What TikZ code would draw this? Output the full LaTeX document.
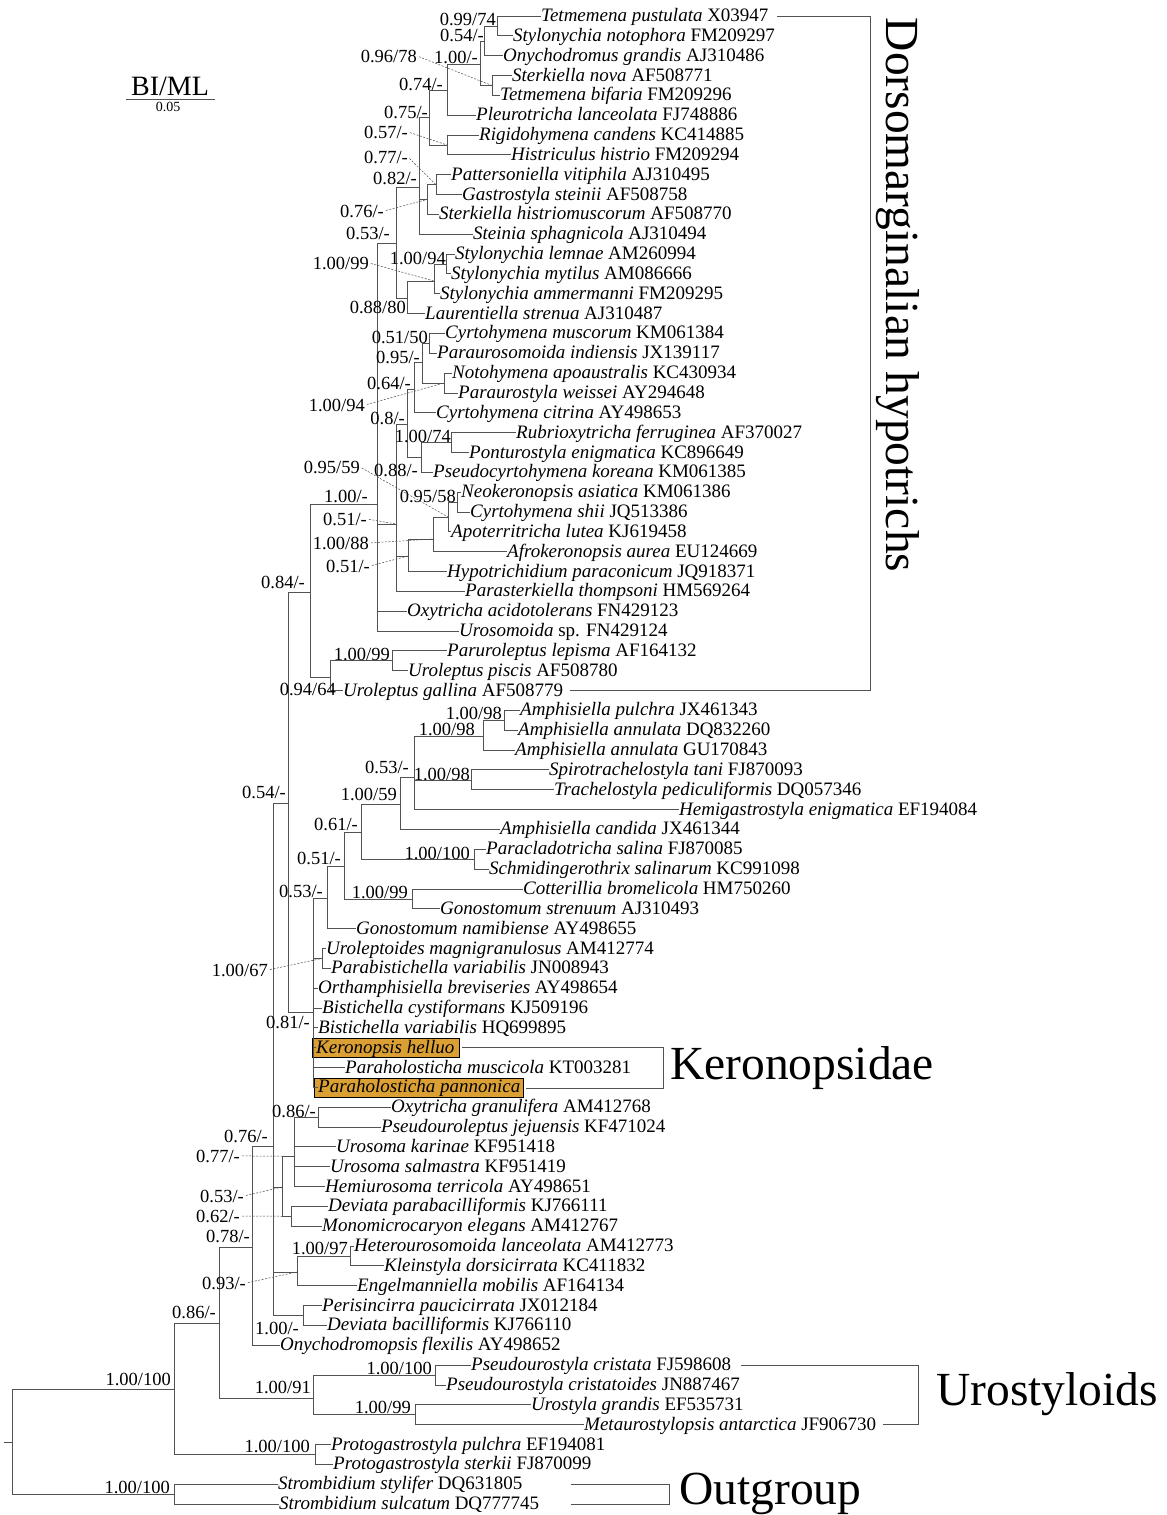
\documentclass[tikz,border=0pt]{standalone}
\usepackage{fontspec}
\setmainfont{Liberation Serif}
\definecolor{hl}{RGB}{218,160,52}
\newcommand\Lf[5]{\node[lfs] (#1) at (#3,#4+5.5) {#5};\draw[br] (#2,#4) -- (#3-0.8,#4);}
\newcommand\Cl[6]{\coordinate (#1) at (#2,#6);\draw[br] (#2,#3) -- (#2,#4);\draw[br] (#5,#6) -- (#1);}
\newcommand\Sv[4]{\node[sv] (#1) at (#2,#3) {#4};}
\begin{document}
\begin{tikzpicture}[x=1pt,y=-1pt,
  br/.style={draw=black!68, line width=0.85pt, line cap=rect},
  lfs/.style={anchor=base west, inner sep=0pt, font=\fontsize{19}{19}\selectfont},
  sv/.style={anchor=base east, inner sep=0pt, font=\fontsize{18.5}{18.5}\selectfont},
  ld/.style={draw=black!70, line width=0.5pt, dash pattern=on 2pt off 1.5pt, shorten <=2pt},
  big/.style={inner sep=0pt, font=\fontsize{47.5}{47.5}\selectfont},
  hlbox/.style={fill=hl, draw=black, line width=0.6pt}]
\useasboundingbox (0,0) rectangle (1167,1515);
% highlighted taxa
\path[hlbox] (312,1038) rectangle (459,1057.5);
\path[hlbox] (314,1078) rectangle (523,1097.5);
% internal nodes: name, x, ytop, ybot, parent x, stem y
\Cl{A}{497}{16}{35.8}{484}{26}
\Cl{B}{484}{26}{55.7}{480}{41}
\Cl{C}{492}{75.5}{95.4}{480}{85.5}
\Cl{D}{480}{41}{85.5}{447}{64}
\Cl{E}{447}{64}{115.2}{429}{90}
\Cl{F}{447}{135}{154.9}{429}{145}
\Cl{G}{429}{90}{145}{419}{117}
\Cl{I}{436}{174.7}{194.6}{427}{184.7}
\Cl{J}{427}{184.7}{214.4}{419}{199.5}
\Cl{H}{419}{117}{234.2}{396}{187}
\Cl{N1}{446}{254.1}{273.9}{434}{264}
\Cl{N2}{434}{264}{293.8}{407}{281}
\Cl{N3}{407}{281}{313.6}{396}{298}
\Cl{N4}{396}{187}{298}{377}{243}
\Cl{P1}{429}{333.4}{353.3}{422}{343.4}
\Cl{P3}{444}{373.1}{393}{422}{383}
\Cl{P2}{422}{343.4}{383}{414}{362}
\Cl{P4}{414}{362}{412.8}{407}{389}
\Cl{P5}{451}{432.6}{452.5}{421}{442.6}
\Cl{P6}{421}{442.6}{472.3}{407}{457.5}
\Cl{P7}{407}{389}{457.5}{396}{424}
\Cl{Q1}{457}{492.2}{512}{448}{502}
\Cl{Q2}{448}{502}{531.8}{433}{517}
\Cl{Q3}{433}{517}{551.7}{408}{539}
\Cl{Q4}{408}{539}{571.5}{396}{556}
\Cl{Q5}{396}{424}{591.4}{377}{524}
\Cl{N5}{377}{243}{631}{310}{504}
\Cl{S1}{392}{650.9}{670.7}{330}{660.8}
\Cl{S2}{330}{660.8}{690.6}{310}{677}
\Cl{R}{310}{504}{677}{288}{592}
\Cl{AE}{504}{710.4}{730.2}{483}{720.3}
\Cl{AC}{483}{720.3}{750.1}{414}{736}
\Cl{AD}{471}{769.9}{789.8}{414}{780}
\Cl{AB}{414}{736}{809.6}{400}{777}
\Cl{Z}{400}{777}{829.4}{361}{804}
\Cl{AA}{474}{849.3}{869.1}{361}{859.2}
\Cl{X}{361}{804}{859.2}{344}{832}
\Cl{Y}{412}{889}{908.8}{344}{899}
\Cl{W}{344}{832}{899}{327}{866}
\Cl{V}{327}{866}{928.6}{313}{898}
\Cl{UP}{322}{948.5}{968.3}{313}{958.4}
\Cl{U}{313}{898}{1087.4}{288}{1012}
\Cl{T}{288}{592}{1012}{273}{803}
\Cl{OG}{318}{1107.2}{1127}{294}{1117}
\Cl{CC}{294}{1117}{1186.6}{282}{1156}
\Cl{DD}{291}{1206.4}{1226.2}{282}{1216.3}
\Cl{EE}{282}{1156}{1216.3}{273}{1187}
\Cl{HK}{350}{1246.1}{1265.9}{297}{1256}
\Cl{GG}{297}{1256}{1285.8}{273}{1272}
\Cl{PD}{303}{1305.6}{1325.4}{273}{1315.5}
\Cl{BB}{273}{803}{1315.5}{252}{1146}
\Cl{II}{252}{1146}{1345.3}{219}{1247}
\Cl{LL}{435}{1365.1}{1385}{313}{1375}
\Cl{MM}{415}{1404.8}{1424.6}{313}{1414.7}
\Cl{KK}{313}{1375}{1414.7}{219}{1398}
\Cl{JJ}{219}{1247}{1398}{174}{1323}
\Cl{PG}{315}{1444.5}{1464.3}{174}{1454.4}
\Cl{NN}{174}{1323}{1454.4}{12}{1389}
\Cl{SS}{174}{1484.2}{1504}{12}{1494}
\Cl{root}{12}{1389}{1494}{4}{1442}
% leaves
\Lf{t1}{497}{541}{16}{\textit{Tetmemena pustulata} X03947}
\Lf{t2}{497}{513}{35.8}{\textit{Stylonychia notophora} FM209297}
\Lf{t3}{484}{503}{55.7}{\textit{Onychodromus grandis} AJ310486}
\Lf{t4}{492}{512}{75.5}{\textit{Sterkiella nova} AF508771}
\Lf{t5}{492}{500}{95.4}{\textit{Tetmemena bifaria} FM209296}
\Lf{t6}{447}{476}{115.2}{\textit{Pleurotricha lanceolata} FJ748886}
\Lf{t7}{447}{479}{135}{\textit{Rigidohymena candens} KC414885}
\Lf{t8}{447}{511}{154.9}{\textit{Histriculus histrio} FM209294}
\Lf{t9}{436}{451}{174.7}{\textit{Pattersoniella vitiphila} AJ310495}
\Lf{t10}{436}{462}{194.6}{\textit{Gastrostyla steinii} AF508758}
\Lf{t11}{427}{439}{214.4}{\textit{Sterkiella histriomuscorum} AF508770}
\Lf{t12}{419}{473}{234.2}{\textit{Steinia sphagnicola} AJ310494}
\Lf{t13}{446}{455}{254.1}{\textit{Stylonychia lemnae} AM260994}
\Lf{t14}{446}{451}{273.9}{\textit{Stylonychia mytilus} AM086666}
\Lf{t15}{434}{440}{293.8}{\textit{Stylonychia ammermanni} FM209295}
\Lf{t16}{407}{425}{313.6}{\textit{Laurentiella strenua} AJ310487}
\Lf{t17}{429}{445}{333.4}{\textit{Cyrtohymena muscorum} KM061384}
\Lf{t18}{429}{437}{353.3}{\textit{Paraurosomoida indiensis} JX139117}
\Lf{t19}{444}{452}{373.1}{\textit{Notohymena apoaustralis} KC430934}
\Lf{t20}{444}{458}{393}{\textit{Paraurostyla weissei} AY294648}
\Lf{t21}{414}{436}{412.8}{\textit{Cyrtohymena citrina} AY498653}
\Lf{t22}{451}{516}{432.6}{\textit{Rubrioxytricha ferruginea} AF370027}
\Lf{t23}{451}{469}{452.5}{\textit{Ponturostyla enigmatica} KC896649}
\Lf{t24}{421}{433}{472.3}{\textit{Pseudocyrtohymena koreana} KM061385}
\Lf{t25}{457}{461}{492.2}{\textit{Neokeronopsis asiatica} KM061386}
\Lf{t26}{457}{470}{512}{\textit{Cyrtohymena shii} JQ513386}
\Lf{t27}{448}{451}{531.8}{\textit{Apoterritricha lutea} KJ619458}
\Lf{t28}{433}{507}{551.7}{\textit{Afrokeronopsis aurea} EU124669}
\Lf{t29}{408}{447}{571.5}{\textit{Hypotrichidium paraconicum} JQ918371}
\Lf{t30}{396}{465}{591.4}{\textit{Parasterkiella thompsoni} HM569264}
\Lf{t31}{377}{407}{611.2}{\textit{Oxytricha acidotolerans} FN429123}
\Lf{t32}{377}{459}{631}{\textit{Urosomoida} sp. FN429124}
\Lf{t33}{392}{447}{650.9}{\textit{Paruroleptus lepisma} AF164132}
\Lf{t34}{392}{408}{670.7}{\textit{Uroleptus piscis} AF508780}
\Lf{t35}{330}{343}{690.6}{\textit{Uroleptus gallina} AF508779}
\Lf{t36}{504}{520}{710.4}{\textit{Amphisiella pulchra} JX461343}
\Lf{t37}{504}{518}{730.2}{\textit{Amphisiella annulata} DQ832260}
\Lf{t38}{483}{515}{750.1}{\textit{Amphisiella annulata} GU170843}
\Lf{t39}{471}{549}{769.9}{\textit{Spirotrachelostyla tani} FJ870093}
\Lf{t40}{471}{554}{789.8}{\textit{Trachelostyla pediculiformis} DQ057346}
\Lf{t41}{414}{679}{809.6}{\textit{Hemigastrostyla enigmatica} EF194084}
\Lf{t42}{400}{500}{829.4}{\textit{Amphisiella candida} JX461344}
\Lf{t43}{474}{486}{849.3}{\textit{Paracladotricha salina} FJ870085}
\Lf{t44}{474}{489}{869.1}{\textit{Schmidingerothrix salinarum} KC991098}
\Lf{t45}{412}{523}{889}{\textit{Cotterillia bromelicola} HM750260}
\Lf{t46}{412}{440}{908.8}{\textit{Gonostomum strenuum} AJ310493}
\Lf{t47}{327}{356}{928.6}{\textit{Gonostomum namibiense} AY498655}
\Lf{t48}{322}{326}{948.5}{\textit{Uroleptoides magnigranulosus} AM412774}
\Lf{t49}{322}{331}{968.3}{\textit{Parabistichella variabilis} JN008943}
\Lf{t50}{313}{318}{988.2}{\textit{Orthamphisiella breviseries} AY498654}
\Lf{t51}{313}{322}{1008}{\textit{Bistichella cystiformans} KJ509196}
\Lf{t52}{313}{318}{1027.8}{\textit{Bistichella variabilis} HQ699895}
\Lf{t53}{313}{316}{1047.7}{\textit{Keronopsis helluo}}
\Lf{t54}{313}{345}{1067.5}{\textit{Paraholosticha muscicola} KT003281}
\Lf{t55}{313}{318}{1087.4}{\textit{Paraholosticha pannonica}}
\Lf{t56}{318}{391}{1107.2}{\textit{Oxytricha granulifera} AM412768}
\Lf{t57}{318}{381}{1127}{\textit{Pseudouroleptus jejuensis} KF471024}
\Lf{t58}{294}{336}{1146.9}{\textit{Urosoma karinae} KF951418}
\Lf{t59}{294}{330}{1166.7}{\textit{Urosoma salmastra} KF951419}
\Lf{t60}{294}{325}{1186.6}{\textit{Hemiurosoma terricola} AY498651}
\Lf{t61}{291}{328}{1206.4}{\textit{Deviata parabacilliformis} KJ766111}
\Lf{t62}{291}{322}{1226.2}{\textit{Monomicrocaryon elegans} AM412767}
\Lf{t63}{350}{354}{1246.1}{\textit{Heterourosomoida lanceolata} AM412773}
\Lf{t64}{350}{384}{1265.9}{\textit{Kleinstyla dorsicirrata} KC411832}
\Lf{t65}{297}{357}{1285.8}{\textit{Engelmanniella mobilis} AF164134}
\Lf{t66}{303}{322}{1305.6}{\textit{Perisincirra paucicirrata} JX012184}
\Lf{t67}{303}{327}{1325.4}{\textit{Deviata bacilliformis} KJ766110}
\Lf{t68}{252}{280}{1345.3}{\textit{Onychodromopsis flexilis} AY498652}
\Lf{t69}{435}{471}{1365.1}{\textit{Pseudourostyla cristata} FJ598608}
\Lf{t70}{435}{446}{1385}{\textit{Pseudourostyla cristatoides} JN887467}
\Lf{t71}{415}{531}{1404.8}{\textit{Urostyla grandis} EF535731}
\Lf{t72}{415}{584}{1424.6}{\textit{Metaurostylopsis antarctica} JF906730}
\Lf{t73}{315}{331}{1444.5}{\textit{Protogastrostyla pulchra} EF194081}
\Lf{t74}{315}{333}{1464.3}{\textit{Protogastrostyla sterkii} FJ870099}
\Lf{t75}{174}{278}{1484.2}{\textit{Strombidium stylifer} DQ631805}
\Lf{t76}{174}{279}{1504}{\textit{Strombidium sulcatum} DQ777745}
% support values
\Sv{s1}{496}{25}{0.99/74}
\Sv{s2}{484}{41.5}{0.54/-}
\Sv{s3}{417}{62}{0.96/78}
\Sv{s4}{478}{63}{1.00/-}
\Sv{s5}{443}{90}{0.74/-}
\Sv{s6}{428}{118}{0.75/-}
\Sv{s7}{408}{138}{0.57/-}
\Sv{s8}{408}{163}{0.77/-}
\Sv{s9}{417}{184}{0.82/-}
\Sv{s10}{384}{217}{0.76/-}
\Sv{s11}{390}{239}{0.53/-}
\Sv{s12}{446}{264}{1.00/94}
\Sv{s13}{369}{269}{1.00/99}
\Sv{s14}{406}{313}{0.88/80}
\Sv{s15}{428}{343}{0.51/50}
\Sv{s16}{420}{363}{0.95/-}
\Sv{s17}{411}{389}{0.64/-}
\Sv{s18}{365}{411}{1.00/94}
\Sv{s19}{405}{424}{0.8/-}
\Sv{s20}{451}{442}{1.00/74}
\Sv{s21}{418}{476}{0.88/-}
\Sv{s22}{360}{473}{0.95/59}
\Sv{s23}{368}{502}{1.00/-}
\Sv{s24}{456}{502}{0.95/58}
\Sv{s25}{367}{525}{0.51/-}
\Sv{s26}{369}{549}{1.00/88}
\Sv{s27}{370}{572}{0.51/-}
\Sv{s28}{305}{588}{0.84/-}
\Sv{s29}{390}{660}{1.00/99}
\Sv{s30}{336}{695}{0.94/64}
\Sv{s31}{286}{798}{0.54/-}
\Sv{s32}{502}{719}{1.00/98}
\Sv{s33}{475}{735}{1.00/98}
\Sv{s34}{409}{773}{0.53/-}
\Sv{s35}{470}{780}{1.00/98}
\Sv{s36}{397}{800}{1.00/59}
\Sv{s37}{358}{830}{0.61/-}
\Sv{s38}{470}{859}{1.00/100}
\Sv{s39}{341}{864}{0.51/-}
\Sv{s40}{408}{898}{1.00/99}
\Sv{s41}{323}{897}{0.53/-}
\Sv{s42}{268}{976}{1.00/67}
\Sv{s43}{310}{1028}{0.81/-}
\Sv{s44}{316}{1117}{0.86/-}
\Sv{s45}{268}{1142}{0.76/-}
\Sv{s46}{240}{1162}{0.77/-}
\Sv{s47}{244}{1202}{0.53/-}
\Sv{s48}{240}{1222}{0.62/-}
\Sv{s49}{250}{1242}{0.78/-}
\Sv{s50}{348}{1254}{1.00/97}
\Sv{s51}{246}{1289}{0.93/-}
\Sv{s52}{299}{1334}{1.00/-}
\Sv{s53}{216}{1318}{0.86/-}
\Sv{s54}{171}{1385}{1.00/100}
\Sv{s55}{311}{1393}{1.00/91}
\Sv{s56}{432}{1374}{1.00/100}
\Sv{s57}{411}{1413}{1.00/99}
\Sv{s58}{310}{1452}{1.00/100}
\Sv{s59}{170}{1493}{1.00/100}
% dashed leaders
\draw[ld] (s3.east) -- (C);
\draw[ld] (s7.east) -- (F);
\draw[ld] (s8.east) -- (I);
\draw[ld] (s10.east) -- (J);
\draw[ld] (s13.east) -- (N2);
\draw[ld] (s18.east) -- (P3);
\draw[ld] (s22.east) -- (Q2);
\draw[ld] (s25.east) -- (Q5);
\draw[ld] (s26.east) -- (Q3);
\draw[ld] (s27.east) -- (Q4);
\draw[ld] (s42.east) -- (UP);
\draw[ld] (s46.east) -- (EE |- CC);
\draw[ld] (s47.east) -- (EE);
\draw[ld] (s48.east) -- (DD);
\draw[ld] (s51.east) -- (GG);
% group brackets and labels
\draw[br] (777,16) -- (870,16) -- (870,690.6) -- (570,690.6);
\node[big, rotate=-90] (dorso) at (898,295) {Dorsomarginalian hypotrichs};
\draw[br] (462,1047.7) -- (663,1047.7) -- (663,1088) -- (526,1088);
\node[big, anchor=west] (kero) at (670,1068) {Keronopsidae};
\draw[br] (741,1365.1) -- (918,1365.1) -- (918,1424.6) -- (883,1424.6);
\node[big, anchor=west] (uro) at (936,1394) {Urostyloids};
\draw[br] (571,1484.2) -- (669,1484.2) -- (669,1504) -- (571,1504);
\node[big, anchor=west] (outg) at (679,1494) {Outgroup};
% scale bar
\node[inner sep=0pt, anchor=base, font=\fontsize{28}{28}\selectfont] (bi) at (170,95) {BI/ML};
\draw[br] (126,99) -- (215,99);
\node[inner sep=0pt, anchor=base, font=\fontsize{14}{14}\selectfont] (sc) at (168,111) {0.05};
\end{tikzpicture}
\end{document}
